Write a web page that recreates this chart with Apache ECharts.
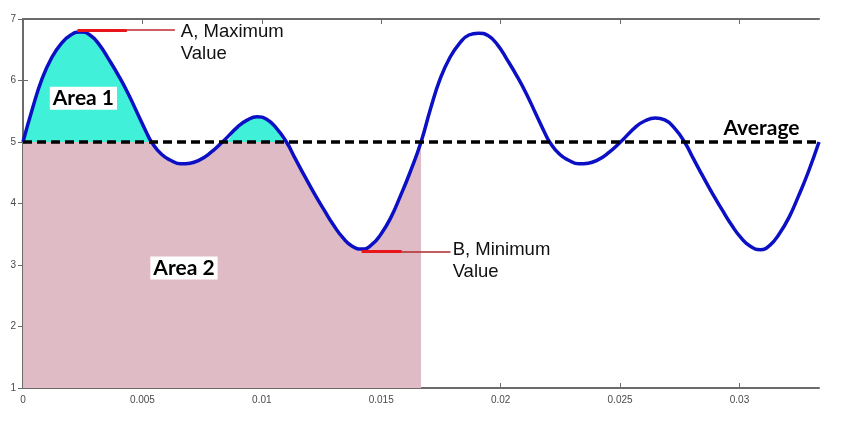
<!DOCTYPE html>
<html>
<head>
<meta charset="utf-8">
<script src="https://cdn.jsdelivr.net/npm/echarts@6/dist/echarts.min.js"></script>
<style>
  html, body { margin: 0; background: #fff; }
  #chart { width: 844px; height: 429px; }
</style>
</head>
<body>
<div id="chart"></div>
<script>
// time (s) and signal value
const timeValues = [
  0, 0.0004, 0.0008, 0.0012, 0.0016, 0.002, 0.0024, 0.0028, 0.0032, 0.0036,
  0.004, 0.0044, 0.0048, 0.0052, 0.00538, 0.0058, 0.0062, 0.0066, 0.007, 0.0074,
  0.0078, 0.00835, 0.009, 0.0094, 0.0098, 0.0102, 0.0106, 0.01103, 0.0114, 0.0118,
  0.0122, 0.0126, 0.013, 0.0134, 0.0138, 0.0142, 0.0146, 0.015, 0.0154, 0.0158,
  0.0162, 0.016667,
  0.01707, 0.01747, 0.01787, 0.01827, 0.01867, 0.01907, 0.01947, 0.01987, 0.02027, 0.02067,
  0.02107, 0.02147, 0.02187, 0.02205, 0.02247, 0.02287, 0.02327, 0.02367, 0.02407, 0.02447,
  0.02502, 0.02567, 0.02607, 0.02647, 0.02687, 0.02727, 0.0277, 0.02807, 0.02847, 0.02887,
  0.02927, 0.02967, 0.03007, 0.03047, 0.03087, 0.03127, 0.03167, 0.03207, 0.03247, 0.03287,
  0.03333
];
const signalValues = [
  5.0, 5.55, 6.03, 6.37, 6.6, 6.74, 6.79, 6.74, 6.58, 6.34,
  6.08, 5.79, 5.46, 5.13, 5.0, 4.8, 4.7, 4.645, 4.655, 4.71,
  4.81, 5.0, 5.25, 5.36, 5.41, 5.37, 5.23, 5.0, 4.73, 4.44,
  4.16, 3.9, 3.65, 3.44, 3.3, 3.26, 3.33, 3.51, 3.77, 4.12,
  4.5, 5.0,
  5.55, 6.03, 6.37, 6.6, 6.74, 6.77, 6.73, 6.58, 6.34, 6.08,
  5.79, 5.46, 5.13, 5.0, 4.8, 4.7, 4.645, 4.655, 4.71, 4.81,
  5.0, 5.25, 5.35, 5.39, 5.36, 5.23, 5.0, 4.73, 4.44, 4.16,
  3.9, 3.65, 3.44, 3.3, 3.25, 3.32, 3.51, 3.77, 4.12, 4.5,
  5.0
];
const averageValue = 5;
const periodEnd = 0.016667;
const xMax = 0.03333;
const xTicks = [0, 0.005, 0.01, 0.015, 0.02, 0.025, 0.03];
const yTicks = [1, 2, 3, 4, 5, 6, 7];
const maxPoint = [0.00238, 6.82];
const minPoint = [0.01418, 3.22];

const signal = timeValues.map((t, i) => [t, signalValues[i]]);
const firstPeriod = signal.filter(p => p[0] <= periodEnd + 1e-7);
const aboveAvg = firstPeriod.map(p => [p[0], Math.max(p[1], averageValue)]);
const belowAvg = firstPeriod.map(p => [p[0], Math.min(p[1], averageValue)]);

const chart = echarts.init(document.getElementById('chart'));

const axisColor = '#6b6b6b';
const labelFont = { color: '#4a4a4a', fontSize: 10, fontFamily: 'Liberation Sans' };
const curveSmooth = 0.5;

const xAxisBase = {
  type: 'value',
  min: 0,
  max: xMax,
  axisLine: { show: true, lineStyle: { color: axisColor, width: 2 } },
  axisTick: { show: true, inside: true, length: 5, customValues: xTicks, lineStyle: { color: axisColor } },
  splitLine: { show: false }
};
const yAxisBase = {
  type: 'value',
  min: 1,
  max: 7,
  interval: 1,
  axisLine: { show: true, lineStyle: { color: axisColor, width: 2 } },
  axisTick: { show: true, inside: true, length: 5, customValues: yTicks, lineStyle: { color: axisColor } },
  splitLine: { show: false }
};

chart.setOption({
  animation: false,
  backgroundColor: '#fff',
  grid: { left: 23, right: 25, top: 19, bottom: 41 },
  xAxis: [
    Object.assign({}, xAxisBase, {
      position: 'bottom',
      axisLabel: Object.assign({ customValues: xTicks, margin: 7 }, labelFont)
    }),
    Object.assign({}, xAxisBase, { position: 'top', axisLabel: { show: false } })
  ],
  yAxis: [
    Object.assign({}, yAxisBase, {
      position: 'left',
      axisLabel: Object.assign({ customValues: yTicks, margin: 7 }, labelFont)
    }),
    Object.assign({}, yAxisBase, { position: 'right', axisLabel: { show: false } })
  ],
  series: [
    {
      name: 'Area 1',
      type: 'line',
      data: aboveAvg,
      smooth: curveSmooth,
      symbol: 'none',
      lineStyle: { width: 0 },
      areaStyle: { color: '#40f0d8', opacity: 1, origin: averageValue },
      z: 1,
      silent: true
    },
    {
      name: 'Area 2',
      type: 'line',
      data: belowAvg,
      smooth: curveSmooth,
      symbol: 'none',
      lineStyle: { width: 0 },
      areaStyle: { color: '#dfbbc5', opacity: 1, origin: 'start' },
      z: 2,
      silent: true
    },
    {
      name: 'Signal',
      type: 'line',
      data: signal,
      smooth: curveSmooth,
      symbol: 'none',
      lineStyle: { color: '#0c10c4', width: 3.5 },
      z: 4,
      markLine: {
        silent: true,
        symbol: 'none',
        label: { show: false },
        data: [
          [{ coord: [maxPoint[0] - 0.0001, maxPoint[1]], lineStyle: { color: '#e8161b', width: 3, type: 'solid' } },
           { coord: [0.00435, maxPoint[1]] }],
          [{ coord: [0.00435, maxPoint[1]], lineStyle: { color: '#c0282c', width: 1.5, type: 'solid' } },
           { coord: [0.00636, maxPoint[1]] }],
          [{ coord: [minPoint[0], minPoint[1]], lineStyle: { color: '#e8161b', width: 3, type: 'solid' } },
           { coord: [0.01586, minPoint[1]] }],
          [{ coord: [0.01586, minPoint[1]], lineStyle: { color: '#b0282c', width: 1.5, type: 'solid' } },
           { coord: [0.01790, minPoint[1]] }]
        ]
      }
    },
    {
      name: 'Average',
      type: 'line',
      data: [[0, averageValue], [xMax, averageValue]],
      symbol: 'none',
      lineStyle: { color: '#000', width: 3.5, type: [9, 5] },
      z: 5
    }
  ]
});

// text annotations anchored in data coordinates
const notes = [
  { at: [0.00661, 6.61], text: 'A, Maximum\nValue', align: 'left', bold: false },
  { at: [0.01799, 3.06], text: 'B, Minimum\nValue', align: 'left', bold: false },
  { at: [0.00253, 5.71], text: 'Area 1', align: 'center', bold: true },
  { at: [0.00674, 2.95], text: 'Area 2', align: 'center', bold: true },
  { at: [0.03092, 5.23], text: 'Average', align: 'center', bold: true, plain: true }
];

chart.setOption({
  graphic: notes.map(n => {
    const p = chart.convertToPixel({ xAxisIndex: 0, yAxisIndex: 0 }, n.at);
    return {
      type: 'text',
      x: p[0],
      y: p[1],
      z: 100,
      silent: true,
      style: n.bold ? {
        text: n.text,
        font: 'bold 21px Lato',
        fill: '#000',
        align: n.align,
        verticalAlign: 'middle',
        backgroundColor: n.plain ? 'transparent' : '#fff',
        padding: [1, 3, 1, 3]
      } : {
        text: n.text,
        font: '18.5px "Liberation Sans"',
        fill: '#111',
        align: n.align,
        verticalAlign: 'middle',
        lineHeight: 22
      }
    };
  })
});
</script>
</body>
</html>
